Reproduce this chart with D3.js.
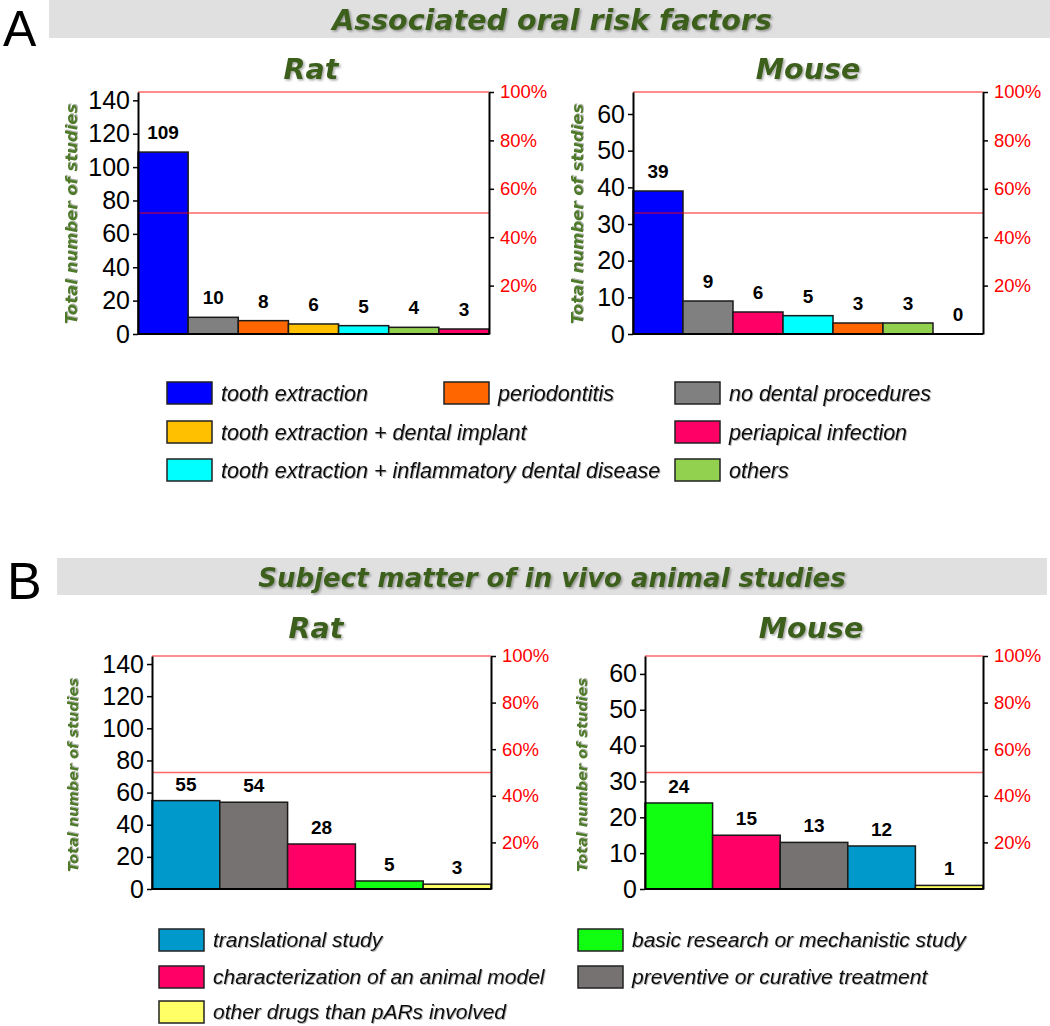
<!DOCTYPE html>
<html>
<head>
<meta charset="utf-8">
<script src="https://cdn.jsdelivr.net/npm/d3@7"></script>
<style>
  html, body { margin: 0; padding: 0; background: #fff; }
  svg { display: block; }
</style>
</head>
<body>
<svg id="chart" width="1050" height="1026"></svg>
<script>
// ---------- DATA ----------
const riskCategories = ["tooth extraction", "periodontitis", "no dental procedures",
  "tooth extraction + dental implant", "periapical infection",
  "tooth extraction + inflammatory dental disease", "others"];
const riskColors = ["#0000ff", "#ff6600", "#808080", "#ffc000", "#ff0066", "#00ffff", "#92d050"];

const ratRiskOrder = ["tooth extraction", "no dental procedures", "periodontitis",
  "tooth extraction + dental implant", "tooth extraction + inflammatory dental disease",
  "others", "periapical infection"];
const ratRiskValues = [109, 10, 8, 6, 5, 4, 3];

const mouseRiskOrder = ["tooth extraction", "no dental procedures", "periapical infection",
  "tooth extraction + inflammatory dental disease", "periodontitis", "others",
  "tooth extraction + dental implant"];
const mouseRiskValues = [39, 9, 6, 5, 3, 3, 0];

const subjectCategories = ["translational study", "characterization of an animal model",
  "other drugs than pARs involved", "basic research or mechanistic study",
  "preventive or curative treatment"];
const subjectColors = ["#0099cc", "#ff0066", "#ffff66", "#11ff11", "#777272"];

const ratSubjectOrder = ["translational study", "preventive or curative treatment",
  "characterization of an animal model", "basic research or mechanistic study",
  "other drugs than pARs involved"];
const ratSubjectValues = [55, 54, 28, 5, 3];

const mouseSubjectOrder = ["basic research or mechanistic study", "characterization of an animal model",
  "preventive or curative treatment", "translational study", "other drugs than pARs involved"];
const mouseSubjectValues = [24, 15, 13, 12, 1];

const ratTicks = [0, 20, 40, 60, 80, 100, 120, 140];
const mouseTicks = [0, 10, 20, 30, 40, 50, 60];
const percentTicks = [0.2, 0.4, 0.6, 0.8, 1.0];
const axisMaxima = [145, 66, 145, 65]; // left-axis maximum (= 100%) per chart: ratA, mouseA, ratB, mouseB

const titles = ["Associated oral risk factors", "Subject matter of in vivo animal studies"];
const panelLetters = ["A", "B"];
const speciesNames = ["Rat", "Mouse"];
const yAxisTitle = "Total number of studies";

// ---------- DRAWING ----------
const svg = d3.select("#chart");
const defs = svg.append("defs");
const sh = defs.append("filter").attr("id", "shadow").attr("x", "-10%").attr("y", "-30%").attr("width", "130%").attr("height", "160%");
sh.append("feDropShadow").attr("dx", 1.5).attr("dy", 1.5).attr("stdDeviation", 1).attr("flood-color", "#000").attr("flood-opacity", 0.35);
const sh2 = defs.append("filter").attr("id", "shadowSmall").attr("x", "-10%").attr("y", "-30%").attr("width", "130%").attr("height", "160%");
sh2.append("feDropShadow").attr("dx", 1).attr("dy", 1).attr("stdDeviation", 0.7).attr("flood-color", "#000").attr("flood-opacity", 0.3);

const titleFont = "'DejaVu Sans', sans-serif";
const baseFont = "'Liberation Sans', Arial, sans-serif";
const darkGreen = "#3d5e1f";
const axisGreen = "#4f7a2a";

function banner(x, y, w, h, letter, lx, ly, lsize, title, tsize, tx) {
  svg.append("rect").attr("x", x).attr("y", y).attr("width", w).attr("height", h).attr("fill", "#e0e0e0");
  svg.append("text").attr("x", lx).attr("y", ly).attr("font-family", baseFont).attr("font-size", lsize)
    .attr("fill", "#000").text(letter);
  svg.append("text").attr("x", tx).attr("y", y + h - 8).attr("text-anchor", "middle")
    .attr("font-family", titleFont).attr("font-weight", "bold").attr("font-style", "italic")
    .attr("font-size", tsize).attr("fill", darkGreen).attr("filter", "url(#shadow)").text(title);
}

function chart(opt) {
  const g = svg.append("g");
  const n = opt.order.length;
  const x = d3.scaleBand().domain(d3.range(n)).range([opt.x0, opt.x1]).padding(0);
  const y = d3.scaleLinear().domain([0, opt.max]).range([opt.yb, opt.yt]);
  const p = d3.scaleLinear().domain([0, 1]).range([opt.yb, opt.yt]);
  const color = d3.scaleOrdinal().domain(opt.cats).range(opt.colors);

  // subtitle
  g.append("text").attr("x", opt.subX).attr("y", opt.subY).attr("text-anchor", "middle")
    .attr("font-family", titleFont).attr("font-weight", "bold").attr("font-style", "italic")
    .attr("font-size", 28.5).attr("fill", darkGreen).attr("filter", "url(#shadow)").text(opt.species);

  // bars
  g.selectAll("rect.bar").data(opt.values).join("rect").attr("class", "bar")
    .attr("x", (d, i) => x(i)).attr("width", x.bandwidth())
    .attr("y", d => y(d)).attr("height", d => y(0) - y(d))
    .attr("fill", (d, i) => color(opt.order[i]))
    .attr("stroke", "#1a1a1a").attr("stroke-width", 1.5);

  // value labels
  g.selectAll("text.val").data(opt.values).join("text").attr("class", "val")
    .attr("x", (d, i) => x(i) + x.bandwidth() / 2).attr("y", d => y(d) - opt.labelGap)
    .attr("text-anchor", "middle").attr("font-family", baseFont).attr("font-weight", "bold")
    .attr("font-size", 19).attr("fill", "#000").text(d => d);

  // red reference lines
  [1, 0.5].forEach(v => {
    g.append("line").attr("x1", opt.x0).attr("x2", opt.x1).attr("y1", p(v)).attr("y2", p(v))
      .attr("stroke", "#ff0000").attr("stroke-opacity", 0.6).attr("stroke-width", 1.5);
  });

  // bottom line
  g.append("line").attr("x1", opt.x0).attr("x2", opt.x1).attr("y1", opt.yb).attr("y2", opt.yb)
    .attr("stroke", "#000").attr("stroke-width", 2);

  // left axis
  const la = g.append("g").attr("transform", `translate(${opt.x0},0)`)
    .call(d3.axisLeft(y).tickValues(opt.ticks).tickSize(5).tickSizeOuter(0).tickPadding(3));
  la.select(".domain").attr("stroke", "#000").attr("stroke-width", 2);
  la.selectAll(".tick line").attr("stroke", "#000").attr("stroke-width", 1.5);
  la.selectAll(".tick text").attr("font-family", baseFont).attr("font-size", 25).attr("fill", "#000");

  // right axis
  const ra = g.append("g").attr("transform", `translate(${opt.x1},0)`)
    .call(d3.axisRight(p).tickValues(percentTicks).tickFormat(d3.format(".0%")).tickSize(5).tickSizeOuter(0).tickPadding(6));
  ra.select(".domain").attr("stroke", "#000").attr("stroke-width", 2);
  ra.selectAll(".tick line").attr("stroke", "#000").attr("stroke-width", 1.5);
  ra.selectAll(".tick text").attr("font-family", baseFont).attr("font-size", 18.5).attr("fill", "#ff0000");

  // y axis title
  g.append("text").attr("transform", `translate(${opt.titleX},${opt.titleY}) rotate(-90)`)
    .attr("text-anchor", "middle").attr("dy", "0.35em")
    .attr("font-family", titleFont).attr("font-weight", "bold").attr("font-style", "italic")
    .attr("font-size", opt.titleSize).attr("fill", axisGreen).attr("filter", "url(#shadowSmall)").text(yAxisTitle);
}

function legend(cats, colors, items, fontSize) {
  const color = d3.scaleOrdinal().domain(cats).range(colors);
  const g = svg.append("g");
  const e = g.selectAll("g.item").data(items).join("g").attr("class", "item")
    .attr("transform", d => `translate(${d.x},${d.y})`);
  e.append("rect").attr("x", 0).attr("y", -11).attr("width", 45).attr("height", 22)
    .attr("fill", d => color(d.cat)).attr("stroke", "#222").attr("stroke-width", 1.5);
  e.append("text").attr("x", 54).attr("y", 0).attr("dy", "0.35em")
    .attr("font-family", baseFont).attr("font-style", "italic").attr("font-size", fontSize)
    .attr("fill", "#111").attr("filter", "url(#shadowSmall)").text(d => d.cat);
}

// Panel A
banner(49, 0, 1001, 38, panelLetters[0], 3, 46, 50, titles[0], 28.5, 552);
chart({ x0: 138, x1: 489, yb: 334, yt: 92, order: ratRiskOrder, values: ratRiskValues,
  cats: riskCategories, colors: riskColors, max: axisMaxima[0], ticks: ratTicks,
  species: speciesNames[0], subX: 311, subY: 79, labelGap: 13, titleX: 71, titleY: 214, titleSize: 16.5 });
chart({ x0: 633, x1: 983, yb: 334, yt: 92, order: mouseRiskOrder, values: mouseRiskValues,
  cats: riskCategories, colors: riskColors, max: axisMaxima[1], ticks: mouseTicks,
  species: speciesNames[1], subX: 808, subY: 79, labelGap: 13, titleX: 577, titleY: 214, titleSize: 16.5 });
legend(riskCategories, riskColors, [
  { cat: "tooth extraction", x: 167, y: 393 },
  { cat: "tooth extraction + dental implant", x: 167, y: 432 },
  { cat: "tooth extraction + inflammatory dental disease", x: 167, y: 470 },
  { cat: "periodontitis", x: 444, y: 393 },
  { cat: "no dental procedures", x: 675, y: 393 },
  { cat: "periapical infection", x: 675, y: 432 },
  { cat: "others", x: 675, y: 470 }
], 21.5);

// Panel B
banner(57, 558, 990, 37, panelLetters[1], 7, 599, 52, titles[1], 26, 552);
chart({ x0: 152, x1: 491, yb: 889, yt: 656, order: ratSubjectOrder, values: ratSubjectValues,
  cats: subjectCategories, colors: subjectColors, max: axisMaxima[2], ticks: ratTicks,
  species: speciesNames[0], subX: 316, subY: 638, labelGap: 10, titleX: 73, titleY: 775, titleSize: 14.5 });
chart({ x0: 645, x1: 983, yb: 889, yt: 656, order: mouseSubjectOrder, values: mouseSubjectValues,
  cats: subjectCategories, colors: subjectColors, max: axisMaxima[3], ticks: mouseTicks,
  species: speciesNames[1], subX: 811, subY: 638, labelGap: 10, titleX: 582, titleY: 775, titleSize: 14.5 });
legend(subjectCategories, subjectColors, [
  { cat: "translational study", x: 159, y: 940 },
  { cat: "characterization of an animal model", x: 159, y: 977 },
  { cat: "other drugs than pARs involved", x: 159, y: 1012 },
  { cat: "basic research or mechanistic study", x: 578, y: 940 },
  { cat: "preventive or curative treatment", x: 578, y: 977 }
], 21);
</script>
</body>
</html>
